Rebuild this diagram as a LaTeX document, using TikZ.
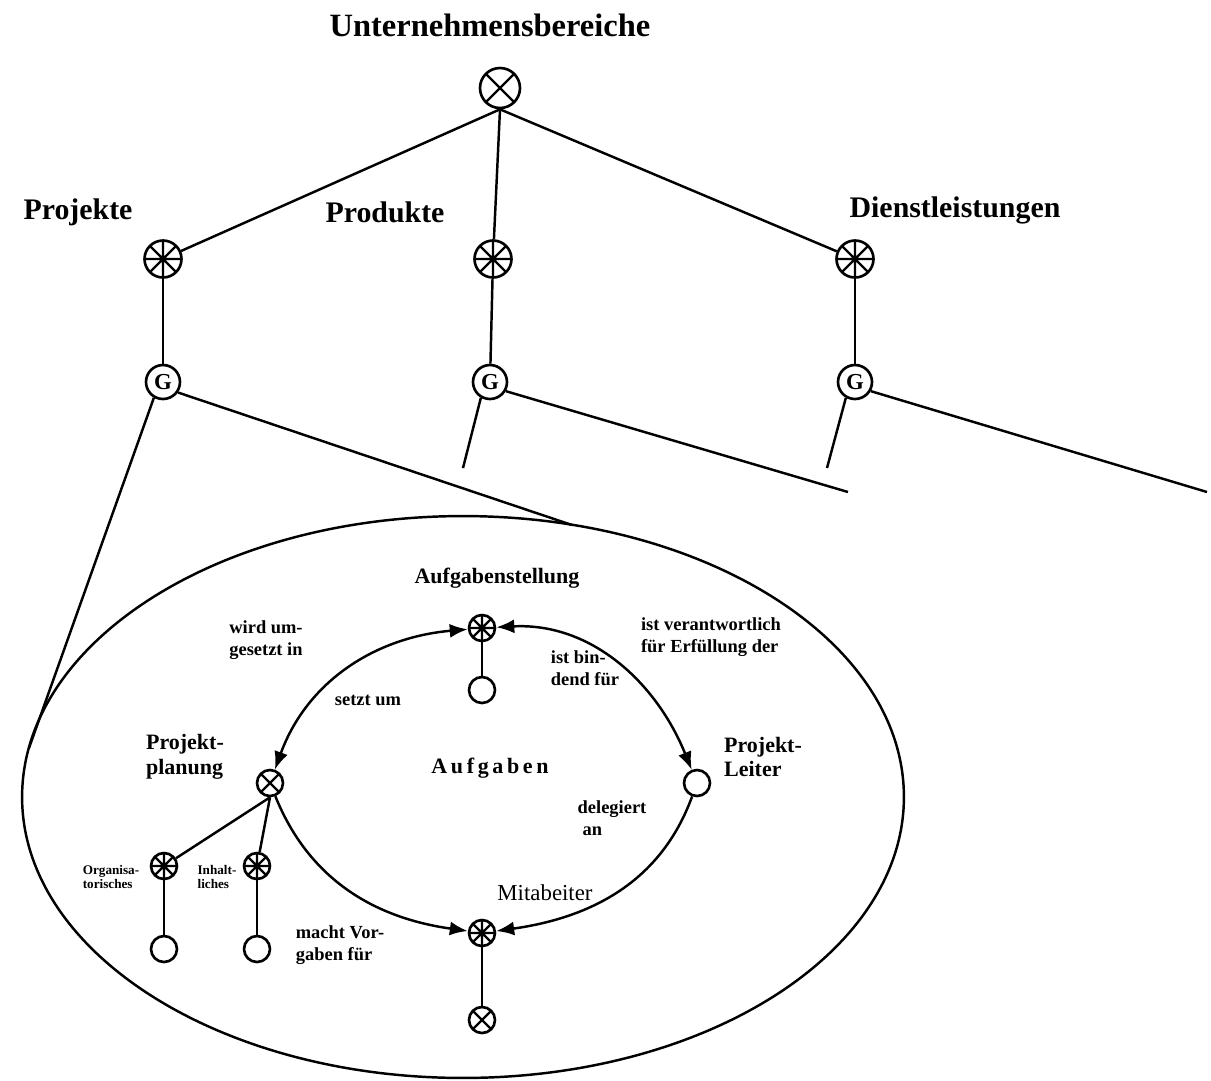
\documentclass[tikz,border=0pt]{standalone}
\usepackage{fontspec}
\setmainfont{Liberation Serif}
\usetikzlibrary{arrows.meta}

\tikzset{
  linie/.style={line width=1.4pt},
  kreis/.style={circle, draw, line width=1.5pt, inner sep=0pt, minimum size=#1},
  kreis/.default=0.52cm,
  kreuz/.style={kreis=#1, path picture={
      \draw[line width=1.3pt] (path picture bounding box.north west) -- (path picture bounding box.south east)
        (path picture bounding box.north east) -- (path picture bounding box.south west);}},
  kreuz/.default=0.52cm,
  stern/.style={kreis=#1, path picture={
      \draw[line width=1.3pt] (path picture bounding box.north west) -- (path picture bounding box.south east)
        (path picture bounding box.north east) -- (path picture bounding box.south west)
        (path picture bounding box.north) -- (path picture bounding box.south)
        (path picture bounding box.west) -- (path picture bounding box.east);}},
  stern/.default=0.52cm,
  titel/.style={font=\bfseries\fontsize{18.5}{20}\selectfont, inner sep=0pt},
  bereich/.style={font=\bfseries\fontsize{17}{19}\selectfont, inner sep=0pt},
  kopf/.style={font=\bfseries\fontsize{12.5}{14}\selectfont, align=left, inner sep=0pt},
  rolle/.style={font=\fontsize{13}{15}\selectfont, inner sep=0pt},
  rel/.style={font=\bfseries\fontsize{10.5}{12.5}\selectfont, align=left, inner sep=0pt},
  klein/.style={font=\bfseries\fontsize{7.5}{8.5}\selectfont, align=left, inner sep=0pt},
  pfeil/.style={line width=1.4pt, -{Latex[length=0.36cm,width=0.28cm]}},
  doppelpfeil/.style={line width=1.4pt, {Latex[length=0.36cm,width=0.28cm]}-{Latex[length=0.36cm,width=0.28cm]}}
}

\begin{document}
\begin{tikzpicture}[x=0.02cm, y=-0.02cm]
  \useasboundingbox (0,0) rectangle (1211,1080);

  \node[titel] (ubl) at (490,25) {Unternehmensbereiche};
  \node[kreuz=0.8cm] (ub) at (500,88) {};

  \node[bereich] (pjl) at (78,212) {Projekte};
  \node[bereich] (prl) at (385,212) {Produkte};
  \node[bereich] (dll) at (955,210) {Dienstleistungen};

  \node[stern=0.74cm] (pj) at (163,259) {};
  \node[stern=0.74cm] (pr) at (493,259) {};
  \node[stern=0.74cm] (dl) at (855,259) {};

  \node[kreis=0.68cm, font=\bfseries\fontsize{13}{14}\selectfont] (g1) at (163,382) {G};
  \node[kreis=0.68cm, font=\bfseries\fontsize{13}{14}\selectfont] (g2) at (490,382) {G};
  \node[kreis=0.68cm, font=\bfseries\fontsize{13}{14}\selectfont] (g3) at (855,382) {G};

  \draw[linie] (ub.south) -- (pj);
  \draw[linie] (ub.south) -- (pr);
  \draw[linie] (ub.south) -- (dl);
  \draw[linie] (pj) -- (g1);
  \draw[linie] (pr) -- (g2);
  \draw[linie] (dl) -- (g3);

  \draw[linie] (463,797) ellipse [x radius=8.82cm, y radius=5.62cm];

  \coordinate (e1) at (29,748);
  \coordinate (e2) at (572,525);
  \coordinate (p1) at (463,468);
  \coordinate (p2) at (848,492);
  \coordinate (d1) at (827,468);
  \coordinate (d2) at (1207,492);
  \draw[linie] (g1.-120) -- (e1);
  \draw[linie] (g1.-35) -- (e2);
  \draw[linie] (g2.-120) -- (p1);
  \draw[linie] (g2.-30) -- (p2);
  \draw[linie] (g3.-120) -- (d1);
  \draw[linie] (g3.-30) -- (d2);

  % innerhalb der Ellipse
  \node[kopf] (astl) at (497,578) {Aufgabenstellung};
  \node[stern] (ast) at (482,628) {};
  \node[kreis] (auf) at (482,690) {};
  \node[kopf] (aufl) at (490,768) {A\,u\,f\,g\,a\,b\,e\,n};

  \node[kopf] (ppl) at (185,757) {Projekt-\\planung};
  \node[kreuz] (pp) at (270,783) {};
  \node[kopf] (pll) at (763,757) {Projekt-\\Leiter};
  \node[kreis] (pl) at (697,783) {};

  \node[rolle] (mitl) at (545,893) {Mitabeiter};
  \node[stern] (mit) at (482,933) {};
  \node[kreuz] (mx) at (482,1020) {};

  \node[klein] (osl) at (111,877) {Organisa-\\torisches};
  \node[stern] (os) at (164,866) {};
  \node[kreis] (oc) at (164,949) {};
  \node[klein] (isl) at (217,877) {Inhalt-\\liches};
  \node[stern] (is) at (257,866) {};
  \node[kreis] (ic) at (257,949) {};

  \draw[linie] (ast) -- (auf);
  \draw[linie] (mit) -- (mx);
  \draw[linie] (os) -- (oc);
  \draw[linie] (is) -- (ic);
  \draw[linie] (pp.south) -- (os);
  \draw[linie] (pp.south) -- (is);

  \draw[doppelpfeil] (ast) to[out=185, in=70] (pp);
  \draw[doppelpfeil] (ast) to[out=3, in=112] (pl);
  \draw[pfeil] (pl) to[out=-110, in=8] (mit);
  \draw[pfeil] (pp) to[out=-68, in=172] (mit);

  \node[rel] (r1) at (266,640) {wird um-\\gesetzt in};
  \node[rel] (r2) at (368,700) {setzt um};
  \node[rel] (r3) at (711,637) {ist verantwortlich\\für Erfüllung der};
  \node[rel] (r4) at (585,668) {ist bin-\\dend für};
  \node[rel] (r5) at (612,818) {delegiert\\\hspace{0.1cm}an};
  \node[rel] (r6) at (340,945) {macht Vor-\\gaben für};
\end{tikzpicture}
\end{document}
